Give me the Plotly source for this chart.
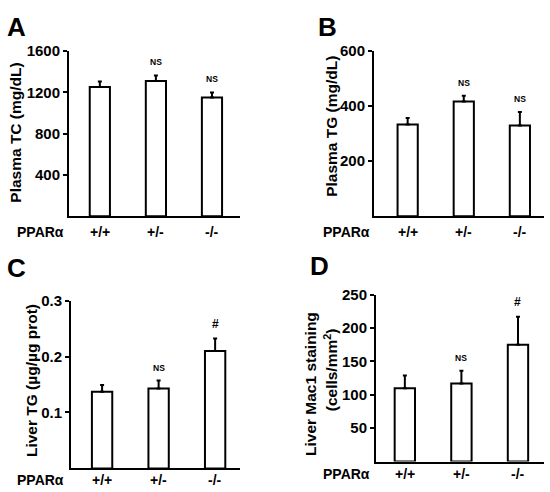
import plotly.graph_objects as go

genotypes = ["+/+", "+/-", "-/-"]

tc_mean = [1254, 1311, 1152]
tc_err = [51, 54, 48]
tc_sig = ["", "NS", "NS"]

tg_mean = [333, 417, 330]
tg_err = [24, 21, 49]
tg_sig = ["", "NS", "NS"]

liver_tg_mean = [0.137, 0.143, 0.210]
liver_tg_err = [0.012, 0.014, 0.022]
liver_tg_sig = ["", "NS", "#"]

mac1_mean = [110, 117, 175]
mac1_err = [19, 19, 42]
mac1_sig = ["", "NS", "#"]

FONT = "Arial, Liberation Sans, sans-serif"
W, H = 550, 492

panels = [
    dict(mean=tc_mean, err=tc_err, sig=tc_sig, yr=[0, 1600], tv=[400, 800, 1200, 1600],
         px=(69, 240), py=(43, 211), xr=[-0.55, 2.5], lab=227),
    dict(mean=tg_mean, err=tg_err, sig=tg_sig, yr=[0, 600], tv=[200, 400, 600],
         px=(374, 544), py=(43, 211), xr=[-0.6, 2.43], lab=227),
    dict(mean=liver_tg_mean, err=liver_tg_err, sig=liver_tg_sig, yr=[0, 0.3], tv=[0.1, 0.2, 0.3],
         px=(71, 240), py=(297, 468), xr=[-0.55, 2.44], lab=480),
    dict(mean=mac1_mean, err=mac1_err, sig=mac1_sig, yr=[0, 250], tv=[50, 100, 150, 200, 250],
         px=(376, 544), py=(291, 461), xr=[-0.51, 2.46], lab=474),
]

fig = go.Figure()
annotations = []
layout = {}
for i, p in enumerate(panels, start=1):
    xa = "x" if i == 1 else f"x{i}"
    ya = "y" if i == 1 else f"y{i}"
    fig.add_trace(go.Bar(
        x=genotypes, y=p["mean"], xaxis=xa, yaxis=ya, width=0.36,
        marker=dict(color="white", line=dict(color="black", width=2)),
        error_y=dict(type="data", symmetric=False, array=p["err"],
                     arrayminus=[0] * 3, color="black", thickness=2, width=2),
        showlegend=False, hoverinfo="skip",
    ))
    xdom = [p["px"][0] / W, p["px"][1] / W]
    ydom = [1 - p["py"][1] / H, 1 - p["py"][0] / H]
    layout["xaxis" if i == 1 else f"xaxis{i}"] = dict(
        domain=xdom, anchor=ya, range=p["xr"], showline=True, linecolor="black",
        linewidth=2, showticklabels=False, ticks="",
        showgrid=False, zeroline=False, fixedrange=True,
    )
    layout["yaxis" if i == 1 else f"yaxis{i}"] = dict(
        domain=ydom, anchor=xa, range=p["yr"], tickvals=p["tv"], showline=True,
        linecolor="black", linewidth=2, ticks="outside", ticklen=4, tickwidth=2,
        tickcolor="black", tickfont=dict(family=FONT, size=15, color="black", weight="bold"),
        showgrid=False, zeroline=False, fixedrange=True,
    )
    for g in genotypes:
        annotations.append(dict(
            x=g, y=1 - p["lab"] / H, xref=xa, yref="paper", text=g, showarrow=False,
            xanchor="center", yanchor="middle",
            font=dict(family=FONT, size=14, color="black", weight="bold"),
        ))
    for g, m, e, s in zip(genotypes, p["mean"], p["err"], p["sig"]):
        if s:
            annotations.append(dict(
                x=g, y=m + e, xref=xa, yref=ya, text=s, showarrow=False,
                yanchor="middle", yshift=13 if s == "NS" else 15,
                font=dict(family=FONT, size=8.5 if s == "NS" else 12, color="black", weight="bold"),
            ))
    annotations.append(dict(
        x=40 / W if p["px"][0] < 200 else 346 / W, y=1 - p["lab"] / H,
        xref="paper", yref="paper", text="PPARα",
        showarrow=False, xanchor="center", yanchor="middle",
        font=dict(family=FONT, size=14, color="black", weight="bold"),
    ))

letters = [("A", 16, 18), ("B", 327, 18), ("C", 16, 264), ("D", 319, 262)]
for t, x, y in letters:
    annotations.append(dict(x=x / W, y=1 - y / H, xref="paper", yref="paper", text=t,
                            showarrow=False, xanchor="center", yanchor="middle",
                            font=dict(family=FONT, size=26, color="black", weight="bold")))

ytitles = [
    ("Plasma TC (mg/dL)", 16, 126),
    ("Plasma TG (mg/dL)", 332, 120),
    ("Liver TG (µg/µg prot)", 31, 379),
    ("Liver Mac1 staining", 310, 382),
    ("(cells/mm<sup>2</sup>)", 331, 368),
]
for t, x, y in ytitles:
    annotations.append(dict(x=x / W, y=1 - y / H, xref="paper", yref="paper", text=t,
                            showarrow=False, textangle=-90, xanchor="center", yanchor="middle",
                            font=dict(family=FONT, size=15.5, color="black", weight="bold")))

fig.update_layout(
    width=W, height=H, margin=dict(l=0, r=0, t=0, b=0),
    plot_bgcolor="white", paper_bgcolor="white",
    annotations=annotations, **layout,
)
fig.write_html(
    "out.html", config={"displayModeBar": False},
    post_script=("document.body.style.margin='0';"
                 "var d=document.getElementById('{plot_id}');"
                 "d.style.position='absolute';d.style.top='0px';d.style.left='0px';"),
)
